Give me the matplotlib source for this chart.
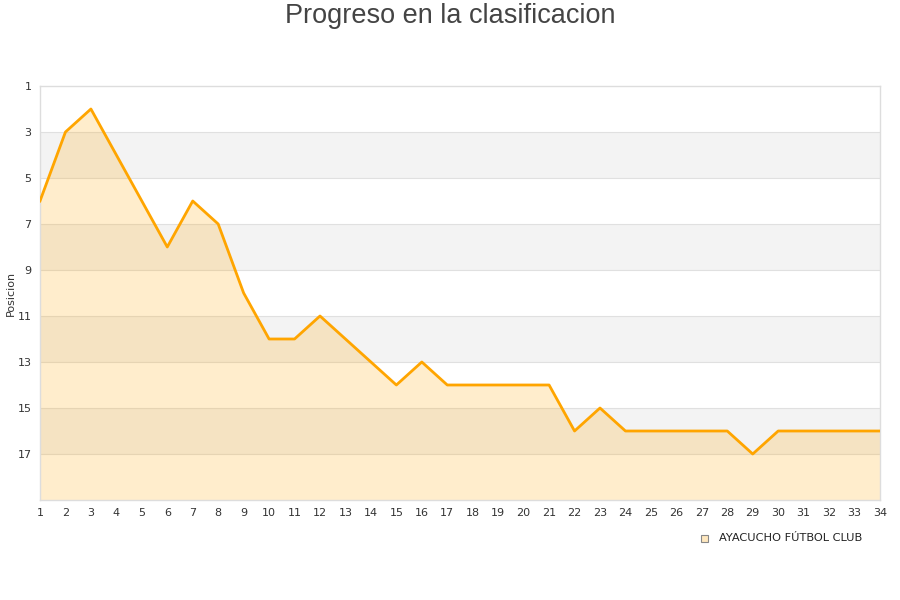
import matplotlib
matplotlib.use("Agg")
import matplotlib.pyplot as plt
from matplotlib.patches import Rectangle

jornadas = list(range(1, 35))
posiciones = [6, 3, 2, 4, 6, 8, 6, 7, 10, 12, 12, 11, 12, 13, 14, 13, 14, 14, 14, 14,
              14, 16, 15, 16, 16, 16, 16, 16, 17, 16, 16, 16, 16, 16]
equipo = "AYACUCHO FÚTBOL CLUB"
titulo = "Progreso en la clasificacion"
ylabel = "Posicion"
yticks = [1, 3, 5, 7, 9, 11, 13, 15, 17]

fig = plt.figure(figsize=(9, 6), dpi=100)
ax = fig.add_axes([40/900, 1-500/600, 840/900, 414/600])

# alternating bands
for i, lo in enumerate(range(1, 19, 2)):
    col = "#ffffff" if i % 2 == 0 else "#f3f3f3"
    ax.axhspan(lo, lo + 2, color=col, zorder=0, lw=0)
for t in range(3, 19, 2):
    ax.axhline(t, color="#e0e0e0", lw=0.8, zorder=1)

ax.fill_between(jornadas, posiciones, 19, color="#ffa500", alpha=0.2, lw=0, zorder=2)
ax.plot(jornadas, posiciones, color="#ffa500", lw=2.0, zorder=3)

ax.set_xlim(1, 34)
ax.set_ylim(19, 1)
ax.set_xticks(jornadas)
ax.set_yticks(yticks)
ax.tick_params(axis="both", length=0, labelsize=8, colors="#333333", pad=6)
ax.tick_params(axis="y", pad=6)
for s in ax.spines.values():
    s.set_color("#dddddd")
    s.set_linewidth(1)
ax.set_ylabel(ylabel, fontsize=8, color="#333333")
ax.yaxis.set_label_coords(-24/840, 0.5)

fig.text(0.5, 1-16/600, titulo, ha="center", va="center", fontsize=19.5,
         color="#444444", family="Liberation Sans")

# legend
fig.patches.append(Rectangle((701/900, 1-542/600), 7/900, 7/600, transform=fig.transFigure,
                             facecolor="#ffe8bf", edgecolor="#888888", lw=0.8))
fig.text(719/900, 1-538/600, equipo, ha="left", va="center", fontsize=8.2, color="#222222")

fig.savefig("out.png", dpi=100)
